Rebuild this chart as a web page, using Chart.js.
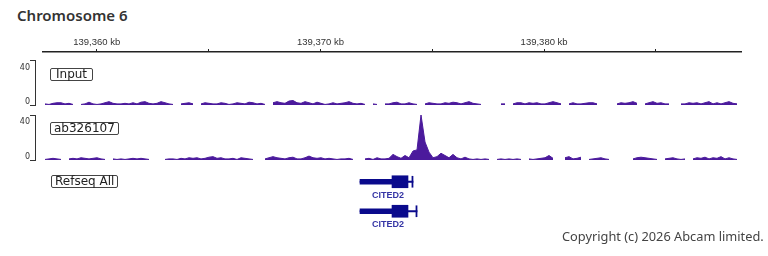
<!DOCTYPE html>
<html>
<head>
<meta charset="utf-8">
<script src="https://cdn.jsdelivr.net/npm/chart.js@4/dist/chart.umd.min.js"></script>
<style>
  body { margin: 0; background: #fff; width: 768px; height: 256px; overflow: hidden; position: relative; font-family: "DejaVu Sans", sans-serif; }
  canvas { position: absolute; left: 0; }
  .title { position: absolute; left: 17px; top: 5px; font: 600 15px/20px "Noto Sans", sans-serif; color: #333; }
  .box { position: absolute; border: 1px solid #444; border-radius: 2px; padding: 0 3px; font-size: 12px; line-height: 11px; color: #222; }
  .num { position: absolute; left: 0; width: 30px; text-align: right; font-size: 8px; line-height: 8px; color: #333; }
  .gene { position: absolute; left: 358px; width: 60px; text-align: center; font: bold 9px/10px "Liberation Sans", sans-serif; color: #3535a5; }
  .copy { position: absolute; left: 562px; top: 228px; font: 12.8px/16px "Noto Sans", sans-serif; color: #444; white-space: nowrap; }
</style>
</head>
<body>
<div class="title">Chromosome 6</div>

<canvas id="ruler" width="768" height="56" style="top:0"></canvas>
<canvas id="input" width="768" height="49" style="top:58px"></canvas>
<canvas id="ab" width="768" height="49" style="top:113px"></canvas>
<canvas id="genes" width="768" height="59" style="top:167px"></canvas>

<div class="num" style="top:64px">40</div>
<div class="num" style="top:98px">0</div>
<div class="num" style="top:118px">40</div>
<div class="num" style="top:153px">0</div>

<div class="box" style="left:50px;top:68px;padding:0 5px">Input</div>
<div class="box" style="left:50px;top:122px">ab326107</div>
<div class="box" style="left:51px;top:175px">Refseq All</div>

<div class="gene" style="top:190px">CITED2</div>
<div class="gene" style="top:219px">CITED2</div>

<div class="copy">Copyright (c) 2026 Abcam limited.</div>

<script>
// visible region, kb
const viewKb = [139357.6, 139388.8]
const rulerTicks = [139360, 139365, 139370, 139375, 139380, 139385]
const rulerLabels = ['139,360 kb', '', '139,370 kb', '', '139,380 kb', '']

// signal bins, ~0.18 kb each, starting at left edge of the view (null = no coverage)
const binKb = 0.1788
const inputSignal = [
  1, 0.5, 1.5, 2, 2, 1, 1.5, 0.5,
  null, 0.5,
  1, 2.5, 1, 0.5, 1, 2, 3, 1.5, 1,
  1, 1.5, 1, 2, 1, 2.5, 3, 1.5, 1, 1.5, 3, 2, 1, 0.5,
  null, 1,
  1.5, 2, 1, null, 1, 2, 1.5, 1, 1, 2, 1.5, 0.5,
  1, 2, 1.5, 1, 2.5, 2, 1, 1.5, 0.5,
  null, 2, 3, 2, 1.5, 3.5, 4, 2, 1.5, 3, 2, 1, 2.5, 1.5,
  0.5, 1, 2, 1, 1.5, 2, 3, 1.5, 1, 1.5, 0.5, null,
  1, 0.5, null, 1,
  1, 2, 2.5, 1, 1, 2, 1, 0.5,
  null, 1, 2, 1.5, 1,
  1, 2, 1.5, 2.5, 2, 1, 2, 3, 1.5, 1, 0.5,
  null, null,
  1, null, 1, 1, null, 1, 2, 2, 1, 2, 1.5, 2, 1, 1, 2, 3, 2, 1, null, 1, 2, 1, 1, 1.5, 2, 2, 1,
  null, null, null, null,
  1, 2, 1.5, 2, 3, 1.5, null, 1, 2, 3, 1.5, 2, 1, 1, null, null,
  1, 1, 2, 1.5, 2, 1, 2, 3, 1, 2, 1, 2, 3, 1.5, 1, null
]
const abSignal = [
  0.5, 1, 1.5, 1, 0.5,
  null,
  1, 1.5, 1, 2, 1.5, 1, 1.5, 2, 1, 0.5,
  null,
  1, 0.5, 1,
  0.5, 1, 1.5, 1, 1.5, 1, 0.5,
  null, null, null,
  0.5, 1, 1, 0.5, 1.5, 1, 2, 1.5, 2, 1, 1.5, 2.5, 3, 1.5, 2, 1, 1, 1.5, 0.5, 2, 1.5, 1, 0.5,
  null, null,
  1, 2, 3, 2, 1.5, 1, 2, 2.5, 1, 1, 2, 3.5, 2, 1.5, 2, 1, 1.5, 1, 0.5, 1, 1, 1.5, 0.5,
  null, null,
  1, 1.5, 0.5, 2, 1,
  1, 1.5, 5, 3, 1.5, 4, 2,
  8, 9, 40, 16, 7,
  2, 3, 6, 4, 2, 5, 2, 1, 2.5, 1,
  0.5, 1, 0.5, 1, 0.5,
  null, 0.5,
  1, 0.5, 1, 0.5, 1, 0.5, null,
  1, 0.5, 1, 1.5,
  2, 4, 1.5,
  null, null,
  2, 3, 1, 1.5, 2.5,
  null, 0.5,
  1, 1.5, 2, 1, 0.5, null,
  1, null,
  1.5, null,
  1, 2, 2.5, 2, 1.5, 1, 0.5, null,
  1, 1.5, 2, 1, 0.5, 1, null,
  1, 2, 1.5, 2.5, 1, 2, 1.5, 3, 1, 2, 1, 0.5, null
]

// RefSeq transcripts (kb)
const geneRows = ['CITED2 (1)', 'CITED2 (2)']
const geneStart = [139371.77, 139371.77]
const utrEnd = [139373.20, 139373.20]
const cdsEnd = [139373.915, 139373.915]
const geneEnd = [139374.14, 139374.32]

const purple = '#4b1a9c'
const navy = '#0a0a8c'
const pxPerKb = 698 / (viewKb[1] - viewKb[0])
const trackMin = viewKb[0] - 8 / pxPerKb

const ruler = new Chart('ruler', {
  type: 'line',
  data: {datasets: []},
  options: {
    responsive: false,
    animation: false,
    layout: {padding: {left: 43, right: 27}},
    plugins: {legend: {display: false}, tooltip: {enabled: false}},
    scales: {
      x: {
        type: 'linear',
        position: 'top',
        min: viewKb[0],
        max: viewKb[1],
        afterBuildTicks: s => { s.ticks = rulerTicks.map(v => ({value: v})) },
        afterFit: s => { s.height = 52 },
        ticks: {
          autoSkip: false, maxRotation: 0, padding: 1, color: '#333',
          font: {family: 'Liberation Sans', size: 9.5},
          callback: (v, i) => rulerLabels[i]
        },
        grid: {drawOnChartArea: false, tickLength: 3, color: '#222'},
        border: {color: '#222', width: 1.5}
      },
      y: {display: false}
    }
  }
})

function track(id, values) {
  return new Chart(id, {
    type: 'line',
    data: {
      datasets: [{
        data: values.map((v, i) => ({x: viewKb[0] + (i + 0.5) * binKb, y: v})),
        borderColor: purple,
        backgroundColor: purple,
        borderWidth: 1,
        pointRadius: 0,
        fill: 'origin',
        tension: 0,
        spanGaps: false
      }]
    },
    options: {
      responsive: false,
      animation: false,
      layout: {padding: {top: 2, bottom: 2, right: 27}},
      plugins: {legend: {display: false}, tooltip: {enabled: false}},
      scales: {
        x: {type: 'linear', display: false, min: trackMin, max: viewKb[1]},
        y: {
          min: 0, max: 40,
          ticks: {display: false, stepSize: 40},
          grid: {drawOnChartArea: false, tickLength: 5, color: '#333'},
          border: {color: '#333'},
          afterFit: s => { s.width = 35 }
        }
      }
    }
  })
}

track('input', inputSignal)
track('ab', abSignal)

const genes = new Chart('genes', {
  type: 'bar',
  data: {
    labels: geneRows,
    datasets: [
      {data: geneStart.map((s, i) => [s, geneEnd[i]]), barThickness: 1.5, backgroundColor: navy},
      {data: geneStart.map((s, i) => [s, utrEnd[i]]), barThickness: 5, backgroundColor: navy},
      {data: utrEnd.map((s, i) => [s, cdsEnd[i]]), barThickness: 12, backgroundColor: navy},
      {data: geneEnd.map(e => [e - 0.05, e]), barThickness: 11, backgroundColor: navy}
    ]
  },
  options: {
    indexAxis: 'y',
    responsive: false,
    animation: false,
    layout: {padding: {left: 43, right: 27}},
    datasets: {bar: {grouped: false}},
    plugins: {legend: {display: false}, tooltip: {enabled: false}},
    scales: {
      x: {type: 'linear', display: false, min: viewKb[0], max: viewKb[1]},
      y: {display: false}
    }
  }
})
</script>
</body>
</html>
